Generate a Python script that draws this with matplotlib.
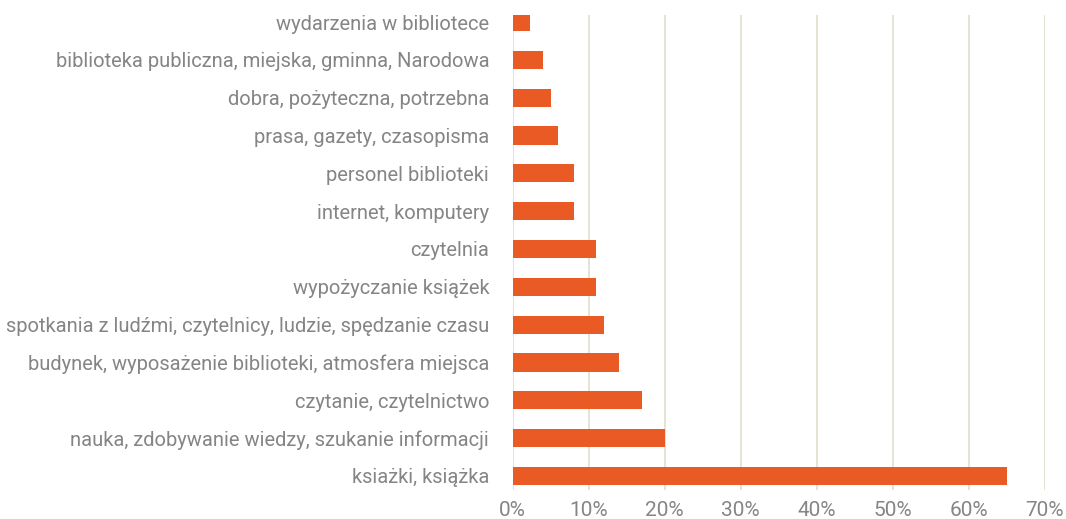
import matplotlib.pyplot as plt
from matplotlib.ticker import PercentFormatter

# dane (od dołu wykresu)
kategorie = [
    "ksiażki, książka",
    "nauka, zdobywanie wiedzy, szukanie informacji",
    "czytanie, czytelnictwo",
    "budynek, wyposażenie biblioteki, atmosfera miejsca",
    "spotkania z ludźmi, czytelnicy, ludzie, spędzanie czasu",
    "wypożyczanie książek",
    "czytelnia",
    "internet, komputery",
    "personel biblioteki",
    "prasa, gazety, czasopisma",
    "dobra, pożyteczna, potrzebna",
    "biblioteka publiczna, miejska, gminna, Narodowa",
    "wydarzenia w bibliotece",
]
wartosci = [65, 20, 17, 14, 12, 11, 11, 8, 8, 6, 5, 4, 2.3]
ticki = [0, 10, 20, 30, 40, 50, 60, 70]

plt.rcParams['font.family'] = ['Roboto', 'DejaVu Sans']
szary = '#858585'

fig = plt.figure(figsize=(10.66, 5.19), dpi=100)
ax = fig.add_axes([0.481, 0.056, 0.499, 0.915])

ax.barh(range(len(kategorie)), wartosci, height=0.48, color='#e95a25', zorder=3)

ax.set_xlim(0, 70)
ax.set_ylim(-0.37, len(kategorie) - 1 + 0.185)
ax.set_xticks(ticki)
ax.xaxis.set_major_formatter(PercentFormatter(decimals=0))
ax.set_yticks(range(len(kategorie)))
ax.set_yticklabels(kategorie)

ax.grid(axis='x', color='#e4e1cf', linewidth=1.3, zorder=0)
for s in ax.spines.values():
    s.set_visible(False)
ax.tick_params(axis='both', length=0, colors=szary, labelsize=14.5)
ax.tick_params(axis='y', pad=17)
ax.tick_params(axis='x', pad=8, labelsize=15)

plt.savefig('out.png', dpi=100)
